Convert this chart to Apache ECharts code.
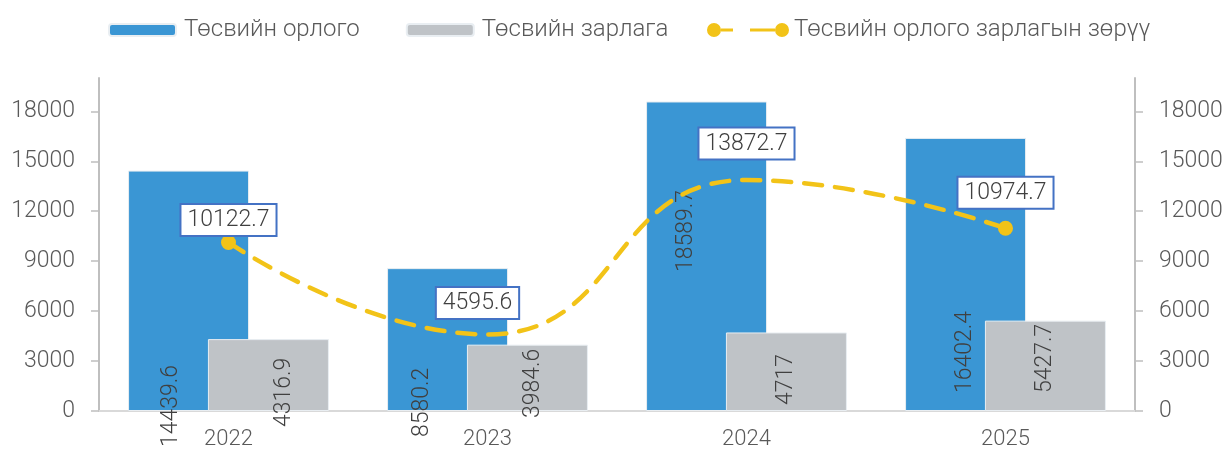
<!DOCTYPE html>
<html>
<head>
<meta charset="utf-8">
<script src="https://cdn.jsdelivr.net/npm/echarts@6/dist/echarts.min.js"></script>
<style>
  html, body { margin: 0; padding: 0; background: #fff; }
  #chart { width: 1227px; height: 450px; }
</style>
</head>
<body>
<div id="chart"></div>
<script>
// years on the x axis
const years = ['2022', '2023', '2024', '2025'];
// budget income / expense / balance
const income = [14439.6, 8580.2, 18589.7, 16402.4];
const expense = [4316.9, 3984.6, 4717, 5427.7];
const balance = [10122.7, 4595.6, 13872.7, 10974.7];
const yTicks = [0, 3000, 6000, 9000, 12000, 15000, 18000];

// screen nudges [dx, dy] for labels, the original ones were hand placed
const incomeLabelNudge = [[-17, 36], [-25, 26], [-20, -139], [0, -18]];
const expenseLabelNudge = [[16, 16], [6, 7], [0, -6], [0, -18]];
const balanceLabelNudge = [[0, 9], [-10, 0], [0, -5], [0, -4]];

const FONT = 'Roboto';
const chart = echarts.init(document.getElementById('chart'));

const valueAxis = (pos) => ({
  type: 'value',
  position: pos,
  min: 0,
  max: 20000,
  splitLine: { show: false },
  axisLine: { show: true, lineStyle: { color: '#bfbfbf', width: 2 } },
  axisTick: { show: true, length: 8, customValues: yTicks, lineStyle: { color: '#bfbfbf', width: 1.5 } },
  axisLabel: {
    customValues: yTicks,
    formatter: (v) => String(v),
    margin: 24,
    color: '#595959',
    fontFamily: FONT,
    fontWeight: 300,
    fontSize: 23
  }
});

// bar labels are rotated 90deg, so the offset works in the rotated frame
const withNudge = (nudge) => (v, i) => ({
  value: v,
  label: { offset: [-nudge[i][1], nudge[i][0]] }
});

const barLabel = {
  show: true,
  position: 'insideBottom',
  distance: 0,
  rotate: 90,
  align: 'left',
  verticalAlign: 'middle',
  color: '#404040',
  fontSize: 23,
  fontWeight: 300,
  fontFamily: FONT
};

const legendText = { color: '#595959', fontSize: 24, fontWeight: 300, fontFamily: FONT, padding: [0, 0, 0, 3] };
const LINE_ICON = 'path://M0,8a7,7 0 1,0 14,0a7,7 0 1,0 -14,0Z M14,6.5h12v3h-12Z M43,6.5h25v3h-25Z M68,8a7,7 0 1,0 14,0a7,7 0 1,0 -14,0Z';

const option = {
  animation: false,
  textStyle: { fontFamily: FONT },
  legend: [
    {
      left: 103,
      top: 13,
      itemWidth: 67,
      itemHeight: 12,
      itemGap: 46,
      textStyle: legendText,
      data: ['Төсвийн орлого', 'Төсвийн зарлага']
    },
    {
      left: 702,
      top: 13,
      itemWidth: 82,
      itemHeight: 16,
      textStyle: { ...legendText, padding: 0 },
      data: [{ name: 'Төсвийн орлого зарлагын зөрүү', icon: LINE_ICON }]
    }
  ],
  grid: { left: 99, right: 92, top: 78, bottom: 39 },
  xAxis: {
    type: 'category',
    data: years,
    axisLine: { lineStyle: { color: '#d9d9d9', width: 2 } },
    axisTick: { show: false },
    axisLabel: { color: '#595959', fontSize: 22, fontWeight: 300, fontFamily: FONT, margin: 17 }
  },
  yAxis: [valueAxis('left'), valueAxis('right')],
  series: [
    {
      name: 'Төсвийн орлого',
      type: 'bar',
      barWidth: 121,
      barGap: '-34%',
      itemStyle: { color: '#3a96d4', borderColor: '#e9eef2', borderWidth: 1 },
      label: barLabel,
      data: income.map(withNudge(incomeLabelNudge))
    },
    {
      name: 'Төсвийн зарлага',
      type: 'bar',
      barWidth: 121,
      barGap: '-34%',
      itemStyle: { color: '#bfc3c7', borderColor: '#e9eef2', borderWidth: 1 },
      label: barLabel,
      data: expense.map(withNudge(expenseLabelNudge))
    },
    {
      name: 'Төсвийн орлого зарлагын зөрүү',
      type: 'line',
      yAxisIndex: 1,
      smooth: 0.5,
      symbol: 'circle',
      symbolSize: 15,
      z: 5,
      itemStyle: { color: '#f2c318' },
      lineStyle: { color: '#f2c318', width: 4.5, type: [18, 13], cap: 'round' },
      label: {
        show: true,
        position: 'top',
        distance: 9,
        color: '#404040',
        fontSize: 23,
        fontWeight: 300,
        fontFamily: FONT,
        backgroundColor: '#fff',
        borderColor: '#4472c4',
        borderWidth: 2,
        padding: [4, 6, 3, 6]
      },
      // markers only on the first and last point
      data: balance.map((v, i) => {
        const ends = i === 0 || i === balance.length - 1;
        return {
          value: v,
          itemStyle: ends ? undefined : { color: 'rgba(0,0,0,0)' },
          label: { offset: balanceLabelNudge[i] }
        };
      })
    }
  ]
};

chart.setOption(option);
</script>
</body>
</html>
